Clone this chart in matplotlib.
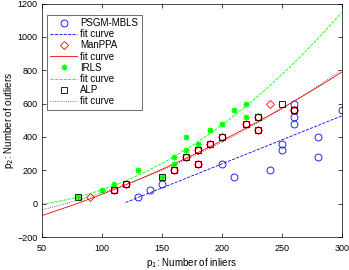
import numpy as np
import matplotlib
matplotlib.use("Agg")
from matplotlib import pyplot as plt

plt.rcParams['font.family'] = ['Liberation Sans', 'DejaVu Sans']

# inliers / outliers per method
psgm_x = [130, 140, 150, 200, 210, 240, 250, 250, 260, 260, 260, 260, 280, 280, 300]
psgm_y = [40, 80, 120, 240, 160, 200, 320, 360, 480, 520, 560, 600, 280, 400, 560]
manppa_x = [90, 110, 120, 160, 170, 180, 180, 190, 200, 220, 230, 230, 240, 260]
manppa_y = [40, 80, 120, 200, 280, 240, 320, 360, 400, 480, 520, 440, 600, 560]
irls_x = [80, 100, 110, 130, 150, 160, 160, 170, 170, 180, 190, 200, 210, 220, 220]
irls_y = [40, 80, 120, 200, 160, 240, 280, 320, 400, 360, 440, 480, 560, 520, 600]
alp_x = [80, 110, 120, 150, 160, 170, 180, 180, 190, 200, 220, 230, 230, 250, 260]
alp_y = [40, 80, 120, 160, 200, 280, 240, 320, 360, 400, 480, 520, 440, 600, 560]

xt = np.linspace(50, 300, 200)
xb = np.linspace(120, 300, 200)

fig = plt.figure(figsize=(3.49, 2.70), dpi=100)
ax = fig.add_axes([0.119, 0.122, 0.860, 0.865])

ax.plot(psgm_x, psgm_y, 'o', color='b', mfc='none', ms=5, mew=0.6, label='PSGM-MBLS')
ax.plot(xb, np.polyval(np.polyfit(psgm_x, psgm_y, 1), xb), '--', color='b', lw=0.6, label='fit curve')
ax.plot(manppa_x, manppa_y, 'D', color='r', mfc='none', ms=4, mew=0.6, label='ManPPA')
ax.plot(xt, np.polyval(np.polyfit(manppa_x, manppa_y, 2), xt), '-', color='r', lw=0.6, label='fit curve')
ax.plot(irls_x, irls_y, marker=(8, 2, 0), ls='none', color=(0, 1, 0), ms=4, mew=0.8, label='IRLS')
ax.plot(xt, np.polyval(np.polyfit(irls_x, irls_y, 2), xt), '--', color=(0, 1, 0), lw=0.6, label='fit curve')
ax.plot(alp_x, alp_y, 's', color='k', mfc='none', ms=4.5, mew=0.6, label='ALP')
ax.plot(xt, np.polyval(np.polyfit(alp_x, alp_y, 2), xt), ':', color='0.3', lw=0.6, label='fit curve')

ax.set_xlim(50, 300)
ax.set_ylim(-200, 1200)
ax.set_xticks([50, 100, 150, 200, 250, 300])
ax.set_yticks([-200, 0, 200, 400, 600, 800, 1000, 1200])
ax.tick_params(direction='in', top=True, right=True, labelsize=6.5, length=3, width=0.5, pad=3)
ax.tick_params(axis='x', pad=5)
for s in ax.spines.values():
    s.set_linewidth(0.5)
ax.set_xlabel('p$_1$: Number of inliers', fontsize=7, labelpad=2)
ax.set_ylabel('p$_2$: Number of outliers', fontsize=7, labelpad=1)

leg = ax.legend(loc='upper left', bbox_to_anchor=(0.017, 0.952), fontsize=7, handlelength=2.8,
                labelspacing=0.12, borderpad=0.35, handletextpad=0.3, borderaxespad=0,
                fancybox=False, edgecolor='k')
leg.get_frame().set_linewidth(0.5)

fig.savefig('out.png', dpi=100)
